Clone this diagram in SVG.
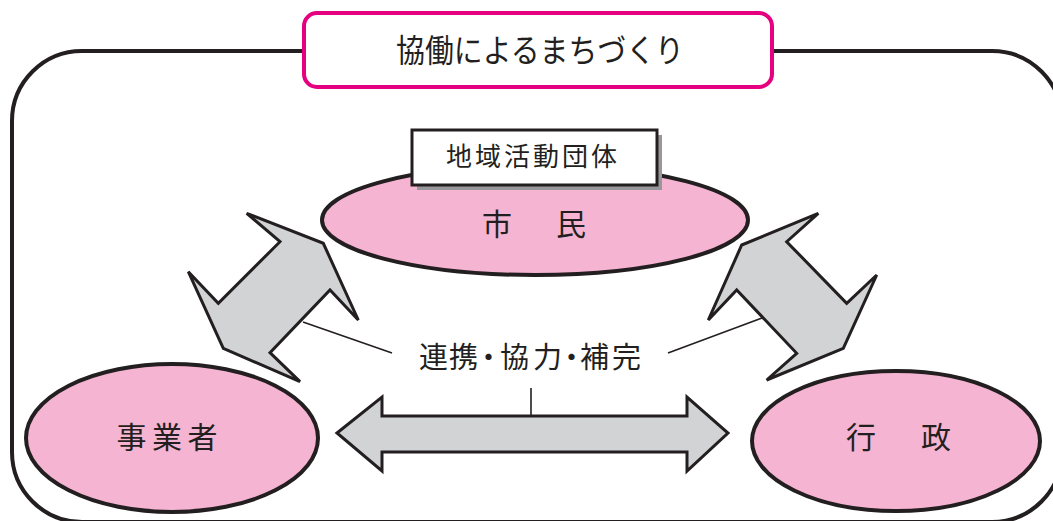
<svg xmlns="http://www.w3.org/2000/svg" width="1053" height="521" viewBox="0 0 1053 521">
<style>
.t{font-family:"Noto Sans CJK JP","Noto Sans CJK SC",sans-serif;fill:#231F20}
.ell{fill:#F5B4D2;stroke:#231F20;stroke-width:4}
.arr{fill:#D1D3D4;stroke:#231F20;stroke-width:3;stroke-linejoin:miter}
.ln{stroke:#231F20;stroke-width:1.6;fill:none}
</style>
<rect width="1053" height="521" fill="#fff"/>
<g id="frame">
<rect x="12" y="51" width="1050" height="471" rx="70" ry="70" fill="none" stroke="#231F20" stroke-width="4"/>
</g>
<g id="title">
<rect x="304" y="13" width="468" height="74" rx="13" ry="13" fill="#fff" stroke="#E4007F" stroke-width="4"/>
<text class="t" x="540" y="62" font-size="32" text-anchor="middle" textLength="288" lengthAdjust="spacingAndGlyphs">協働によるまちづくり</text>
</g>
<g id="connectors">
<polygon class="arr" points="246.7,213.3 323.3,243.3 358.3,320 330,290 270,352.7 300,381.7 223.3,348.3 188.3,271.7 218.3,303.3 280,241.7"/>
<polygon class="arr" points="818.3,213.3 786.7,241.7 846.7,303.3 876.7,275 843.3,348.3 766.7,380 796.7,353.3 736.7,290 708.3,320 741.7,245"/>
<polygon class="arr" points="337,433 382,397 382,416 687,416 687,397 728,433 687,471 687,452 382,452 382,471"/>
<line class="ln" x1="303" y1="322" x2="392" y2="353"/>
<line class="ln" x1="762" y1="318" x2="668" y2="353"/>
<line class="ln" x1="531" y1="388" x2="531" y2="416"/>
<text class="t" x="419 449 474 500 533 557 580 612" y="368" font-size="29">連携・協力・補完</text>
</g>
<g id="shimin">
<ellipse class="ell" cx="535" cy="220" rx="213" ry="55"/>
<text class="t" x="482" y="235" font-size="30" letter-spacing="7">市　民</text>
</g>
<g id="chiiki">
<rect x="417" y="135" width="245" height="55" fill="#98989A"/>
<rect x="412" y="130" width="245" height="55" fill="#fff" stroke="#231F20" stroke-width="3"/>
<text class="t" x="446" y="166" font-size="26" letter-spacing="3">地域活動団体</text>
</g>
<g id="jigyousha">
<ellipse class="ell" cx="172" cy="438" rx="146" ry="74"/>
<text class="t" x="116.5" y="448" font-size="30" letter-spacing="5.5">事業者</text>
</g>
<g id="gyousei">
<ellipse class="ell" cx="896" cy="441" rx="144" ry="70"/>
<text class="t" x="846" y="448" font-size="30" letter-spacing="7.5">行　政</text>
</g>
</svg>
